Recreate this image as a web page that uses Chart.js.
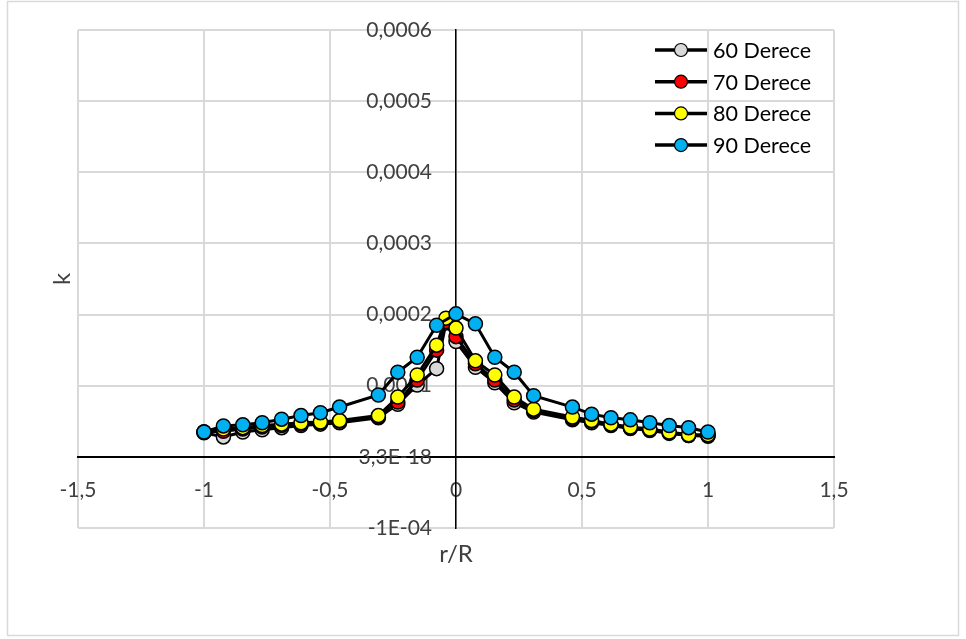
<!DOCTYPE html>
<html>
<head>
<meta charset="utf-8">
<title>k - r/R</title>
<script src="https://cdn.jsdelivr.net/npm/chart.js@4.4.0/dist/chart.umd.min.js"></script>
<style>
  html, body { margin: 0; padding: 0; background: #fff; }
</style>
</head>
<body>
<canvas id="kChart" width="966" height="639"></canvas>
<script>
// series names and marker colours
const seriesNames = ["60 Derece", "70 Derece", "80 Derece", "90 Derece"];
const markerColors = ["#d9d9d9", "#ff0000", "#ffff00", "#00b0f0"];

// r/R positions (90 Derece has no extra point near the centre)
const rR90 = [-1, -0.923, -0.846, -0.769, -0.692, -0.615, -0.538, -0.462, -0.308, -0.231, -0.154, -0.077, 0,
  0.077, 0.154, 0.231, 0.308, 0.462, 0.538, 0.615, 0.692, 0.769, 0.846, 0.923, 1];
const rRother = [-1, -0.923, -0.846, -0.769, -0.692, -0.615, -0.538, -0.462, -0.308, -0.231, -0.154, -0.077, -0.04, 0,
  0.077, 0.154, 0.231, 0.308, 0.462, 0.538, 0.615, 0.692, 0.769, 0.846, 0.923, 1];

// k values
const k60 = [0.000034, 0.000028, 0.000035, 0.000038, 0.000041, 0.000044, 0.000046, 0.000048, 0.000055, 0.000074, 0.000101, 0.000124, 0.000188, 0.000162,
  0.000126, 0.000104, 0.000076, 0.000063, 0.000052, 0.000048, 0.000044, 0.000040, 0.000037, 0.000033, 0.000030, 0.000029];
const k70 = [0.000035, 0.000036, 0.000039, 0.000042, 0.000044, 0.000046, 0.000048, 0.000050, 0.000056, 0.000077, 0.000108, 0.000150, 0.000190, 0.000169,
  0.000131, 0.000108, 0.000080, 0.000065, 0.000054, 0.000050, 0.000045, 0.000041, 0.000038, 0.000034, 0.000030, 0.000030];
const k80 = [0.000035, 0.000039, 0.000041, 0.000044, 0.000046, 0.000048, 0.000049, 0.000051, 0.000058, 0.000084, 0.000115, 0.000157, 0.000195, 0.000181,
  0.000135, 0.000115, 0.000084, 0.000067, 0.000056, 0.000051, 0.000046, 0.000042, 0.000039, 0.000035, 0.000031, 0.000031];
const k90 = [0.000035, 0.0000435, 0.000045, 0.000048, 0.000053, 0.000058, 0.000062, 0.000070, 0.000087, 0.000119, 0.000140, 0.000185, 0.000201,
  0.000187, 0.000140, 0.000119, 0.000086, 0.000070, 0.000060, 0.000055, 0.000052, 0.000048, 0.000044, 0.000041, 0.000035];

// axis ticks and titles
const xTickLabels = ["-1,5", "-1", "-0,5", "0", "0,5", "1", "1,5"];
const yTickValues = [-0.0001, 0, 0.0001, 0.0002, 0.0003, 0.0004, 0.0005, 0.0006];
const yTickLabels = ["-1E-04", "3,3E-18", "0,0001", "0,0002", "0,0003", "0,0004", "0,0005", "0,0006"];
const xTitle = "r/R";
const yTitle = "k";

const FONT = "Lato, 'Open Sans', sans-serif";
const TEXT = "#404040";

function pairs(xs, ys) {
  return xs.map((x, i) => ({ x: x, y: ys[i] }));
}

const seriesData = [pairs(rRother, k60), pairs(rRother, k70), pairs(rRother, k80), pairs(rR90, k90)];

// draws background, frame, y labels, titles and the legend
const extras = {
  id: "extras",
  beforeDraw(chart) {
    const ctx = chart.ctx;
    ctx.save();
    ctx.fillStyle = "#fff";
    ctx.fillRect(0, 0, chart.width, chart.height);
    ctx.strokeStyle = "#d9d9d9";
    ctx.lineWidth = 1.5;
    ctx.strokeRect(7.5, 1.5, 951, 634);
    ctx.restore();
  },
  beforeDatasetsDraw(chart) {
    const { ctx, scales: { x, y }, chartArea } = chart;
    ctx.save();
    ctx.font = "21px " + FONT;
    ctx.fillStyle = TEXT;
    ctx.textAlign = "right";
    ctx.textBaseline = "middle";
    const lx = x.getPixelForValue(0) - 24;
    yTickValues.forEach((v, i) => ctx.fillText(yTickLabels[i], lx, y.getPixelForValue(v)));

    ctx.font = "24px " + FONT;
    ctx.textAlign = "center";
    ctx.fillText(xTitle, x.getPixelForValue(0), chartArea.bottom + 26);
    ctx.translate(chartArea.left - 16, (chartArea.top + chartArea.bottom) / 2);
    ctx.rotate(-Math.PI / 2);
    ctx.fillText(yTitle, 0, 0);
    ctx.restore();
  },
  afterDraw(chart) {
    const { ctx, chartArea } = chart;
    ctx.save();
    ctx.font = "21.5px " + FONT;
    ctx.textBaseline = "middle";
    ctx.textAlign = "left";
    const x0 = chartArea.right - 179;
    seriesNames.forEach((name, i) => {
      const yy = chartArea.top + 20 + i * 31.7;
      ctx.strokeStyle = "#000";
      ctx.lineWidth = 3.5;
      ctx.beginPath();
      ctx.moveTo(x0, yy);
      ctx.lineTo(x0 + 52, yy);
      ctx.stroke();
      ctx.beginPath();
      ctx.arc(x0 + 26, yy, 6.5, 0, Math.PI * 2);
      ctx.fillStyle = markerColors[i];
      ctx.fill();
      ctx.lineWidth = 1.2;
      ctx.stroke();
      ctx.fillStyle = "#000";
      ctx.fillText(name, x0 + 58, yy + 1);
    });
    ctx.restore();
  }
};

new Chart(document.getElementById("kChart").getContext("2d"), {
  type: "scatter",
  data: {
    datasets: seriesNames.map((name, i) => ({
      label: name,
      data: seriesData[i],
      showLine: true,
      borderColor: "#000",
      borderWidth: 3,
      backgroundColor: markerColors[i],
      pointBackgroundColor: markerColors[i],
      pointBorderColor: "#000",
      pointBorderWidth: 1.5,
      pointRadius: 7,
      order: 3 - i
    }))
  },
  options: {
    responsive: false,
    animation: false,
    devicePixelRatio: 1,
    layout: { padding: { left: 78, right: 132, top: 30, bottom: 111 } },
    plugins: {
      legend: { display: false },
      tooltip: { enabled: false }
    },
    scales: {
      x: {
        type: "linear",
        position: { y: 0 },
        min: -1.5,
        max: 1.5,
        ticks: {
          stepSize: 0.5,
          padding: 21,
          color: TEXT,
          font: { family: FONT, size: 21 },
          callback: (v, i) => xTickLabels[i]
        },
        grid: { color: "#d9d9d9", lineWidth: 2, drawTicks: false, z: -1 },
        border: { color: "#000", width: 2 }
      },
      y: {
        type: "linear",
        position: { x: 0 },
        min: -0.0001,
        max: 0.0006,
        ticks: { stepSize: 0.0001, display: false },
        grid: { color: "#d9d9d9", lineWidth: 2, drawTicks: false, z: -1 },
        border: { color: "#000", width: 1.5 }
      }
    }
  },
  plugins: [extras]
});
</script>
</body>
</html>
